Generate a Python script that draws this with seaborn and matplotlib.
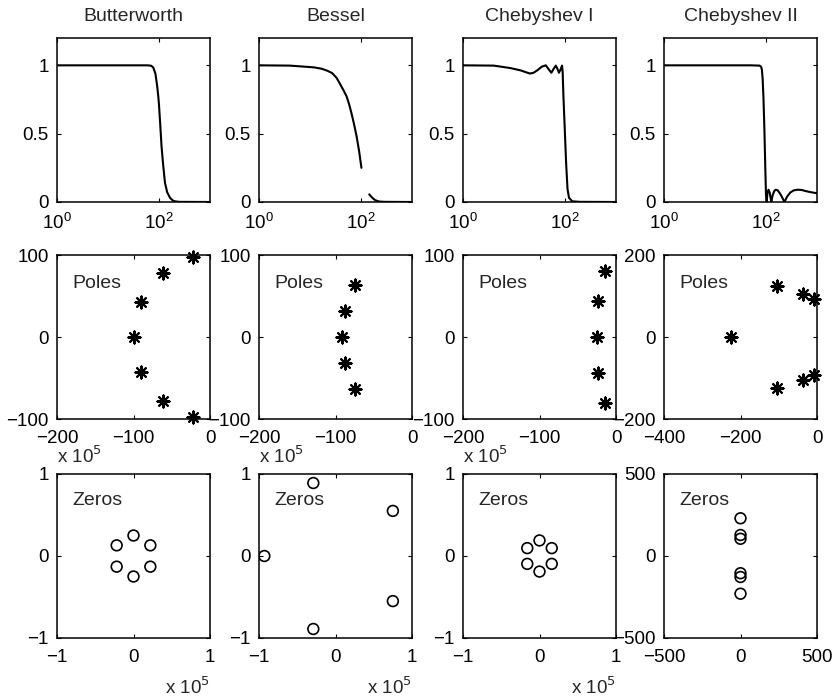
"""
Analog low-pass prototypes: magnitude response, poles and zeros
for Butterworth, Bessel, Chebyshev I and Chebyshev II designs.
Values were read off the reference figure.
"""
import matplotlib
matplotlib.use("Agg")
import matplotlib.pyplot as plt
import pandas as pd
import seaborn as sns
from matplotlib.ticker import FixedLocator, FuncFormatter, NullLocator

TITLES = ["Butterworth", "Bessel", "Chebyshev I", "Chebyshev II"]

# ---------- magnitude responses (w in rad/s, |H|) ----------
BUTTER_W = [1, 10, 40, 60, 70, 77, 85, 92, 97, 100, 106, 112, 120, 131, 145, 165, 185, 205, 250, 1000]
BUTTER_H = [1.0, 1.0, 1.0, 1.0, 0.997, 0.985, 0.94, 0.85, 0.77, 0.71, 0.56, 0.41, 0.28, 0.14, 0.07,
            0.03, 0.012, 0.005, 0.001, 0.0]

BESSEL_W = [1, 4, 8, 12, 17, 22, 27, 33, 38, 45, 52, 58, 65, 73, 82, 92, 102]
BESSEL_H = [1.0, 0.998, 0.99, 0.985, 0.975, 0.96, 0.944, 0.91, 0.87, 0.82, 0.774, 0.72, 0.65,
            0.57, 0.48, 0.37, 0.25]
# the Bessel curve has a visible break after 10^2
BESSEL_TAIL_W = [145, 165, 187, 210, 235, 300, 1000]
BESSEL_TAIL_H = [0.056, 0.032, 0.015, 0.007, 0.003, 0.001, 0.0]

CHEBY1_W = [1, 4, 8.5, 13.5, 17, 20.5, 24, 29, 35, 42, 47, 54, 60, 66, 71, 76, 82, 87.5, 90, 93, 99,
            105, 112, 120, 139, 200, 1000]
CHEBY1_H = [1.0, 0.998, 0.98, 0.963, 0.95, 0.94, 0.945, 0.965, 0.99, 1.0, 0.975, 0.946, 0.975, 0.998,
            0.975, 0.946, 0.97, 0.998, 0.95, 0.78, 0.53, 0.29, 0.095, 0.03, 0.005, 0.001, 0.0]

CHEBY2_W = [1, 10, 50, 75, 80, 83, 86, 89, 93, 97, 100, 103, 107, 112, 118, 123, 127, 135, 145,
            155, 170, 190, 210, 230, 260, 300, 350, 420, 500, 600, 750, 1000]
CHEBY2_H = [1.0, 1.0, 1.0, 0.998, 0.99, 0.97, 0.9, 0.77, 0.53, 0.24, 0.05, 0.0, 0.07, 0.09, 0.07,
            0.03, 0.0, 0.05, 0.08, 0.09, 0.085, 0.06, 0.03, 0.0, 0.04, 0.07, 0.085, 0.09, 0.088,
            0.08, 0.072, 0.064]

# ---------- poles (real, imag) ----------
BUTTER_P_RE = [-22, -62, -90, -100, -90, -62, -22]
BUTTER_P_IM = [97, 78, 43, 0, -43, -78, -97]
BESSEL_P_RE = [-75, -88, -92, -88, -75]
BESSEL_P_IM = [64, 32, 0, -32, -64]
CHEBY1_P_RE = [-15, -23, -25, -23, -15]
CHEBY1_P_IM = [80, 44, 0, -44, -80]
CHEBY2_P_RE = [-225, -105, -105, -37, -37, -9, -9]
CHEBY2_P_IM = [0, 124, -124, 106, -106, 92, -92]

# ---------- zeros (first three in units of 1e5) ----------
BUTTER_Z_RE = [0.0, 0.22, 0.22, 0.0, -0.22, -0.22]
BUTTER_Z_IM = [0.25, 0.13, -0.13, -0.25, -0.13, 0.13]
BESSEL_Z_RE = [0.75, -0.29, -0.93, -0.29, 0.75]
BESSEL_Z_IM = [0.55, 0.89, 0.0, -0.89, -0.55]
CHEBY1_Z_RE = [0.0, 0.16, 0.16, 0.0, -0.16, -0.16]
CHEBY1_Z_IM = [0.19, 0.096, -0.096, -0.19, -0.096, 0.096]
CHEBY2_Z_RE = [0, 0, 0, 0, 0, 0]
CHEBY2_Z_IM = [230, 128, 105, -105, -128, -230]
ZERO_SCALE = [1e5, 1e5, 1e5, 1]

MAG = [
    [(BUTTER_W, BUTTER_H)],
    [(BESSEL_W, BESSEL_H), (BESSEL_TAIL_W, BESSEL_TAIL_H)],
    [(CHEBY1_W, CHEBY1_H)],
    [(CHEBY2_W, CHEBY2_H)],
]
POLES = [(BUTTER_P_RE, BUTTER_P_IM), (BESSEL_P_RE, BESSEL_P_IM),
         (CHEBY1_P_RE, CHEBY1_P_IM), (CHEBY2_P_RE, CHEBY2_P_IM)]
ZEROS = [(BUTTER_Z_RE, BUTTER_Z_IM), (BESSEL_Z_RE, BESSEL_Z_IM),
         (CHEBY1_Z_RE, CHEBY1_Z_IM), (CHEBY2_Z_RE, CHEBY2_Z_IM)]

sns.set_style("ticks")
plt.rcParams["font.family"] = ["Liberation Sans", "DejaVu Sans"]
plt.rcParams["axes.unicode_minus"] = True

FS_TICK = 13.5
FS_TEXT = 14

fig = plt.figure(figsize=(8.35, 6.99), dpi=100)
W, H = 835, 699
col_left = [57, 259, 463, 664]
row_top = [38, 255, 474]
ax_w, ax_h = 153, 164


def make_axes(row, col):
    l = col_left[col] / W
    b = 1 - (row_top[row] + ax_h) / H
    ax = fig.add_axes([l, b, ax_w / W, ax_h / H])
    for s in ax.spines.values():
        s.set_linewidth(1.1)
        s.set_color("black")
    ax.tick_params(direction="in", length=3, width=0.8, top=True, right=True,
                   labelsize=FS_TICK, colors="black")
    ax.tick_params(axis="x", pad=8)
    ax.tick_params(axis="y", pad=6)
    return ax


def sci_fmt(x, pos):
    v = int(round(x / 1e5))
    return f"\u2212{abs(v)}" if v < 0 else f"{v}"


for c in range(4):
    # --- magnitude response ---
    ax = make_axes(0, c)
    for w, h in MAG[c]:
        df = pd.DataFrame({"w": w, "h": h})
        sns.lineplot(data=df, x="w", y="h", ax=ax, color="black", linewidth=1.5,
                     estimator=None, sort=False)
    ax.set_xscale("log")
    ax.set_xlim(1, 1000)
    ax.set_ylim(0, 1.2)
    ax.xaxis.set_major_locator(FixedLocator([1, 100]))
    ax.xaxis.set_minor_locator(NullLocator())
    ax.set_yticks([0, 0.5, 1])
    ax.set_yticklabels(["0", "0.5", "1"])
    ax.set_xlabel("")
    ax.set_ylabel("")
    ax.set_title(TITLES[c], fontsize=FS_TEXT, pad=12)

    # --- poles ---
    ax = make_axes(1, c)
    re, im = POLES[c]
    dfp = pd.DataFrame({"re": re, "im": im})
    sns.scatterplot(data=dfp, x="re", y="im", ax=ax, marker=(8, 2, 0), s=75,
                    color="black", linewidth=1.5, zorder=3, clip_on=False)
    if c < 3:
        ax.set_xlim(-200, 0)
        ax.set_ylim(-100, 100)
        ax.set_xticks([-200, -100, 0])
        ax.set_yticks([-100, 0, 100])
    else:
        ax.set_xlim(-400, 0)
        ax.set_ylim(-200, 200)
        ax.set_xticks([-400, -200, 0])
        ax.set_yticks([-200, 0, 200])
    ax.set_xlabel("")
    ax.set_ylabel("")
    ax.text(0.1, 0.80, "Poles", transform=ax.transAxes, fontsize=FS_TEXT,
            va="baseline", ha="left")

    # --- zeros ---
    ax = make_axes(2, c)
    re, im = ZEROS[c]
    k = ZERO_SCALE[c]
    dfz = pd.DataFrame({"re": [v * k for v in re], "im": [v * k for v in im]})
    sns.scatterplot(data=dfz, x="re", y="im", ax=ax, marker="o", s=60,
                    facecolor="none", edgecolor="black", linewidth=1.2, zorder=3)
    if c < 3:
        ax.set_xlim(-1e5, 1e5)
        ax.set_ylim(-1e5, 1e5)
        ax.set_xticks([-1e5, 0, 1e5])
        ax.set_yticks([-1e5, 0, 1e5])
        ax.xaxis.set_major_formatter(FuncFormatter(sci_fmt))
        ax.yaxis.set_major_formatter(FuncFormatter(sci_fmt))
        ax.text(0.0, 1.07, r"x 10$^5$", transform=ax.transAxes, fontsize=FS_TICK,
                ha="left", va="baseline")
        ax.text(1.0, -0.34, r"x 10$^5$", transform=ax.transAxes, fontsize=FS_TICK,
                ha="right", va="baseline")
    else:
        ax.set_xlim(-500, 500)
        ax.set_ylim(-500, 500)
        ax.set_xticks([-500, 0, 500])
        ax.set_yticks([-500, 0, 500])
    ax.set_xlabel("")
    ax.set_ylabel("")
    ax.text(0.1, 0.81, "Zeros", transform=ax.transAxes, fontsize=FS_TEXT,
            va="baseline", ha="left")

fig.savefig("out.png", dpi=100, facecolor="white")
